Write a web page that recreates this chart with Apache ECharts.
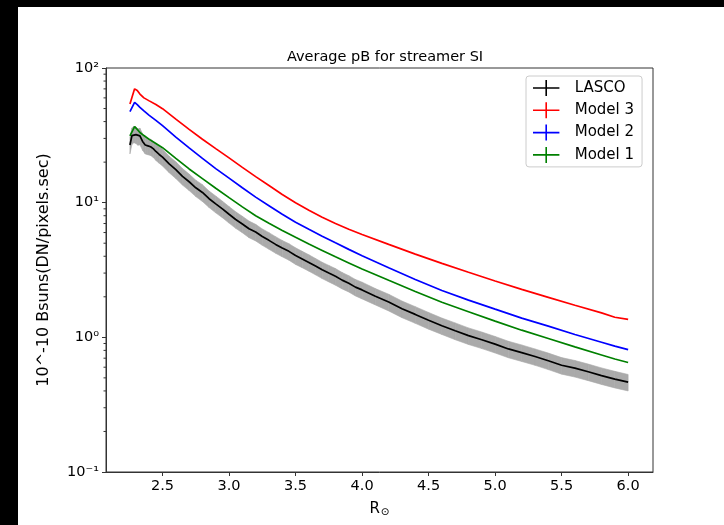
<!DOCTYPE html>
<html>
<head>
<meta charset="utf-8">
<script src="https://cdn.jsdelivr.net/npm/echarts@6/dist/echarts.min.js"></script>
<style>
  html, body { margin: 0; padding: 0; background: #fff; }
  #main { width: 724px; height: 525px; }
</style>
</head>
<body>
<div id="main"></div>
<script>
// radius samples (R_sun) shared by the three models
const rModel = [2.255, 2.29, 2.31, 2.33, 2.36, 2.40, 2.45, 2.50, 2.60, 2.70, 2.80, 2.90, 3.00, 3.10, 3.20, 3.30, 3.40, 3.50, 3.60, 3.70, 3.80, 3.90, 4.00, 4.20, 4.40, 4.60, 4.80, 5.00, 5.20, 5.40, 5.60, 5.80, 5.90, 6.00]
const model3 = [54, 70, 68, 64, 60, 57, 53.5, 49.9, 41.7, 35.0, 29.6, 25.2, 21.5, 18.3, 15.6, 13.4, 11.5, 10.0, 8.8, 7.8, 7.0, 6.35, 5.8, 4.90, 4.15, 3.54, 3.04, 2.62, 2.27, 1.98, 1.73, 1.52, 1.41, 1.36]
const model2 = [47.4, 55.6, 53.5, 51, 48, 44.5, 40.8, 37.3, 30.7, 25.5, 21.3, 17.9, 15.2, 12.9, 11.0, 9.5, 8.2, 7.15, 6.34, 5.63, 5.03, 4.50, 4.04, 3.29, 2.69, 2.23, 1.89, 1.62, 1.39, 1.21, 1.05, 0.92, 0.86, 0.81]
const model1 = [31.3, 36.7, 35, 33.2, 31.5, 29.5, 27.5, 25.6, 21.3, 17.8, 15.1, 12.8, 10.9, 9.3, 8.0, 7.02, 6.22, 5.53, 4.93, 4.42, 3.96, 3.57, 3.22, 2.65, 2.19, 1.82, 1.55, 1.32, 1.13, 0.98, 0.85, 0.74, 0.69, 0.65]

// LASCO observation with its error
const rLasco = [2.255, 2.27, 2.285, 2.30, 2.315, 2.33, 2.35, 2.37, 2.39, 2.41, 2.43, 2.45, 2.475, 2.50,
  2.55, 2.60, 2.65, 2.70, 2.75, 2.80, 2.85, 2.90, 2.95, 3.00, 3.05, 3.10, 3.15, 3.20, 3.25, 3.30,
  3.35, 3.40, 3.45, 3.50, 3.55, 3.60, 3.65, 3.70, 3.75, 3.80, 3.85, 3.90, 3.95, 4.00,
  4.10, 4.20, 4.30, 4.40, 4.50, 4.60, 4.70, 4.80, 4.90, 5.00, 5.10, 5.20, 5.30, 5.40, 5.50, 5.60, 5.70, 5.80, 5.90, 6.00]
const lasco = [26.8, 31.5, 32.4, 32.0, 31.0, 31.3, 28.5, 26.8, 26.4, 26.0, 25.2, 24.0, 22.8, 21.8,
  19.4, 17.6, 15.7, 14.3, 12.9, 11.9, 10.7, 9.8, 9.0, 8.2, 7.5, 6.95, 6.4, 6.05, 5.6, 5.25,
  4.9, 4.6, 4.35, 4.05, 3.82, 3.6, 3.38, 3.17, 3.0, 2.84, 2.66, 2.52, 2.36, 2.25,
  2.02, 1.83, 1.63, 1.48, 1.34, 1.22, 1.12, 1.03, 0.96, 0.89, 0.82, 0.77, 0.72, 0.67, 0.62, 0.59, 0.555, 0.52, 0.49, 0.465]
const lascoErr = [3.8, 4.4, 4.5, 4.5, 4.3, 4.4, 4.0, 3.8, 3.7, 3.6, 3.5, 3.4, 3.2, 3.1,
  2.7, 2.5, 2.2, 2.0, 1.8, 1.7, 1.5, 1.4, 1.26, 1.15, 1.05, 0.97, 0.9, 0.85, 0.78, 0.74,
  0.69, 0.64, 0.61, 0.57, 0.53, 0.50, 0.47, 0.44, 0.42, 0.40, 0.37, 0.35, 0.33, 0.32,
  0.28, 0.26, 0.23, 0.21, 0.19, 0.17, 0.16, 0.145, 0.135, 0.125, 0.115, 0.108, 0.10, 0.094, 0.087, 0.083, 0.078, 0.073, 0.069, 0.065]

const xTicks = [2.5, 3.0, 3.5, 4.0, 4.5, 5.0, 5.5, 6.0]
const yTicks = [0.1, 1, 10, 100]
const yTickLabels = ['10⁻¹', '10⁰', '10¹', '10²']
const yMinor = [0.2, 0.3, 0.4, 0.5, 0.6, 0.7, 0.8, 0.9, 2, 3, 4, 5, 6, 7, 8, 9, 20, 30, 40, 50, 60, 70, 80, 90]

const xMin = 2.075
const xMax = 6.187
const font = 'DejaVu Sans'

const pair = (xs, ys) => xs.map((x, i) => [x, ys[i]])

const band = []
for (let i = 0; i < rLasco.length - 1; i++) {
  band.push([rLasco[i], lasco[i] - lascoErr[i], lasco[i] + lascoErr[i],
    rLasco[i + 1], lasco[i + 1] - lascoErr[i + 1], lasco[i + 1] + lascoErr[i + 1]])
}

const chart = echarts.init(document.getElementById('main'))
const option = {
  backgroundColor: '#fff',
  animation: false,
  textStyle: { fontFamily: font },
  title: {
    text: 'Average pB for streamer SI',
    left: 380,
    top: 45,
    textAlign: 'center',
    textStyle: { fontFamily: font, fontSize: 14.5, fontWeight: 'normal', color: '#000' }
  },
  graphic: [
    { type: 'rect', shape: { x: 0, y: 0, width: 724, height: 7 }, style: { fill: '#000' }, z: 100 },
    { type: 'rect', shape: { x: 0, y: 0, width: 18, height: 525 }, style: { fill: '#000' }, z: 100 }
  ],
  grid: {
    left: 106,
    top: 68,
    right: 71,
    bottom: 53,
    show: true,
    borderColor: '#333',
    borderWidth: 1
  },
  legend: {
    left: 526,
    top: 76,
    orient: 'vertical',
    itemWidth: 33,
    itemHeight: 16,
    itemGap: 6.3,
    padding: [4, 8, 4, 7],
    borderColor: '#ccc',
    borderWidth: 1,
    borderRadius: 3,
    backgroundColor: '#fff',
    icon: 'path://M0,9 L33,9 L33,11 L0,11 Z M15.5,0 L17.5,0 L17.5,20 L15.5,20 Z',
    textStyle: { fontFamily: font, fontSize: 15, color: '#000', padding: [0, 0, 0, 7] },
    data: ['LASCO', 'Model 3', 'Model 2', 'Model 1']
  },
  xAxis: {
    type: 'value',
    min: xMin,
    max: xMax,
    name: 'R{s|⊙}',
    nameLocation: 'middle',
    nameGap: 29,
    nameTextStyle: {
      fontFamily: font, fontSize: 15, color: '#000',
      rich: { s: { fontFamily: font, fontSize: 10.5, color: '#000', padding: [6, 0, 0, 1] } }
    },
    axisLine: { show: true, lineStyle: { color: '#333' } },
    axisTick: { show: true, length: 4, customValues: xTicks, lineStyle: { color: '#333' } },
    axisLabel: {
      customValues: xTicks,
      margin: 7,
      fontFamily: font,
      fontSize: 14.5,
      color: '#000',
      formatter: v => v.toFixed(1)
    },
    splitLine: { show: false }
  },
  yAxis: {
    type: 'log',
    logBase: 10,
    min: 0.1,
    max: 100,
    name: '10^-10 Bsuns(DN/pixels.sec)',
    nameLocation: 'middle',
    nameGap: 54,
    nameTextStyle: { fontFamily: font, fontSize: 16, color: '#000' },
    axisLine: { show: true, lineStyle: { color: '#333' } },
    axisTick: { show: true, length: 4, customValues: yTicks, lineStyle: { color: '#333' } },
    axisLabel: {
      customValues: yTicks,
      margin: 7,
      fontFamily: font,
      fontSize: 14.5,
      color: '#000',
      formatter: v => {
        const i = yTicks.findIndex(t => Math.abs(t - v) / t < 1e-6)
        return i >= 0 ? yTickLabels[i] : ''
      }
    },
    splitLine: { show: false }
  },
  series: [
    {
      name: 'LASCO band',
      type: 'custom',
      silent: true,
      z: 1,
      encode: { x: [0, 3], y: [1, 2, 4, 5] },
      renderItem: (params, api) => {
        const a = api.coord([api.value(0), api.value(2)])
        const b = api.coord([api.value(3), api.value(5)])
        const c = api.coord([api.value(3), api.value(4)])
        const d = api.coord([api.value(0), api.value(1)])
        return {
          type: 'polygon',
          shape: { points: [a, b, c, d] },
          style: { fill: '#aaaaaa', stroke: '#aaaaaa', lineWidth: 0.6 }
        }
      },
      data: band
    },
    {
      name: 'minor ticks',
      type: 'custom',
      silent: true,
      encode: { y: 0 },
      renderItem: (params, api) => {
        const p = api.coord([xMin, api.value(0)])
        return {
          type: 'line',
          shape: { x1: p[0] - 2.5, y1: p[1], x2: p[0], y2: p[1] },
          style: { stroke: '#333', lineWidth: 1 }
        }
      },
      data: yMinor.map(v => [v])
    },
    {
      name: 'LASCO', type: 'line', showSymbol: false, z: 5, color: '#000',
      lineStyle: { width: 1.7, color: '#000' },
      data: pair(rLasco, lasco)
    },
    {
      name: 'Model 3', type: 'line', showSymbol: false, z: 4, color: '#ff0000',
      lineStyle: { width: 1.7, color: '#ff0000' },
      data: pair(rModel, model3)
    },
    {
      name: 'Model 2', type: 'line', showSymbol: false, z: 4, color: '#0000ff',
      lineStyle: { width: 1.7, color: '#0000ff' },
      data: pair(rModel, model2)
    },
    {
      name: 'Model 1', type: 'line', showSymbol: false, z: 4, color: '#008000',
      lineStyle: { width: 1.7, color: '#008000' },
      data: pair(rModel, model1)
    }
  ]
}
chart.setOption(option)
</script>
</body>
</html>
